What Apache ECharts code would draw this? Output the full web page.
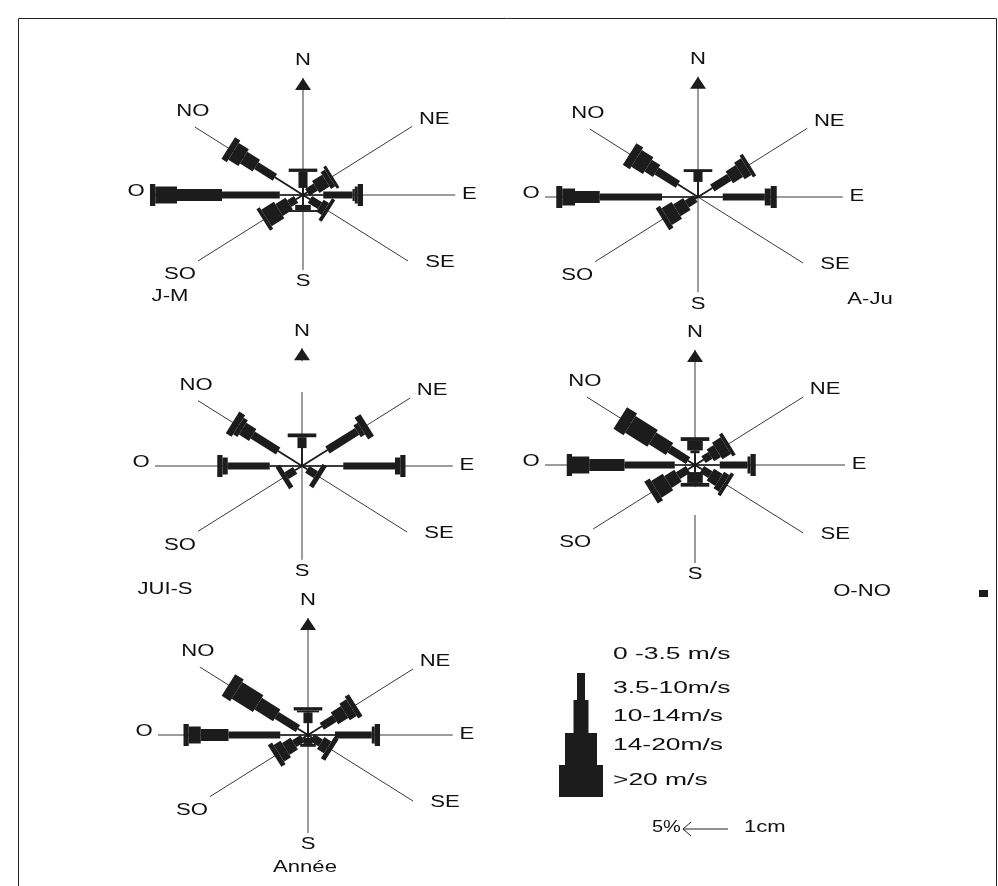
<!DOCTYPE html>
<html>
<head>
<meta charset="utf-8">
<script src="https://cdn.jsdelivr.net/npm/echarts@6/dist/echarts.min.js"></script>
<style>
  html, body { margin: 0; padding: 0; background: #fff; }
  #chart { width: 998px; height: 886px; }
</style>
</head>
<body>
<div id="chart"></div>
<script>
// Compass sectors (clockwise from north) and wind-speed classes
const directions = ['N', 'NE', 'E', 'SE', 'S', 'SO', 'O', 'NO'];
const speedClasses = ['0 -3.5 m/s', '3.5-10m/s', '10-14m/s', '14-20m/s', '>20 m/s'];
const periods = ['J-M', 'A-Ju', 'JUI-S', 'O-NO', 'Année'];

// Frequency (%) per sector; each row = [0-3.5, 3.5-10, 10-14, 14-20, >20]
const freqJM = [
  [1.5, 3.4, 0, 0, 0.7],
  [0.8, 1.6, 1.9, 0.8, 0.5],
  [2.7, 3.9, 0.3, 0.4, 0.7],
  [1.3, 1.9, 1.0, 0, 0.6],
  [2.1, 0, 1.1, 0, 0.4],
  [1.3, 1.3, 1.9, 2.4, 0.6],
  [3.1, 7.7, 6.0, 2.9, 0.7],
  [5.3, 3.5, 2.4, 1.9, 1.0]
];
const freqAJu = [
  [3.2, 2.1, 0, 0, 0.6],
  [2.7, 3.2, 1.9, 1.3, 0.6],
  [3.3, 5.6, 0, 0.8, 0.8],
  [0, 0, 0, 0, 0],
  [0, 0, 0, 0, 0],
  [0.5, 1.6, 1.9, 1.9, 0.8],
  [4.8, 8.3, 3.3, 1.7, 0.8],
  [3.8, 4.0, 1.6, 2.2, 1.3]
];
const freqJuiS = [
  [3.8, 2.3, 0, 0, 0.8],
  [4.8, 5.6, 0.8, 0, 1.1],
  [5.5, 6.9, 0, 0.7, 0.7],
  [1.0, 1.6, 0, 0, 0.8],
  [0, 0, 0, 0, 0],
  [1.3, 1.6, 0, 0, 0.8],
  [4.3, 5.6, 0, 0.7, 0.7],
  [4.5, 4.8, 1.9, 0.8, 1.1]
];
const freqONo = [
  [2.5, 0.6, 2.0, 0, 0.8],
  [1.6, 1.3, 1.3, 1.6, 0.6],
  [3.3, 3.7, 0, 0.4, 0.7],
  [1.3, 1.6, 1.6, 1.0, 0.6],
  [1.5, 0, 2.3, 0, 0.8],
  [1.3, 1.9, 1.9, 2.2, 1.0],
  [2.7, 6.7, 4.7, 2.3, 0.7],
  [1.3, 3.5, 3.2, 4.2, 1.9]
];
const freqAnnee = [
  [2.5, 2.3, 0, 0.4, 0.7],
  [2.6, 2.4, 1.9, 1.3, 0.8],
  [3.6, 4.9, 0, 0.4, 0.7],
  [0.8, 1.6, 1.3, 0, 0.8],
  [0.6, 1.3, 0.6, 0, 0],
  [1.0, 1.6, 1.6, 1.3, 0.8],
  [3.7, 6.9, 3.7, 1.6, 0.7],
  [1.9, 4.0, 3.5, 4.0, 1.6]
];
const scaleLabels = ['5%', '1cm'];

// ---- layout ----
const roses = [freqJM, freqAJu, freqJuiS, freqONo, freqAnnee];
const roseCenters = [[303, 195], [698, 197], [302, 466], [695, 465], [308, 735]];
// drawn length of each compass spoke, in % units
const spokeLen = [
  [24.8, 20.6, 20.3, 19.8, 15.9, 19.8, 20.4, 20.4],
  [25.5, 20.6, 19.3, 19.8, 20.2, 19.4, 20.4, 20.4],
  [25.0, 20.4, 20.1, 19.8, 19.9, 19.6, 19.6, 19.6],
  [24.4, 20.4, 20.0, 20.4, 20.8, 19.2, 20.0, 20.4],
  [24.8, 19.8, 19.3, 19.8, 20.8, 18.5, 20.0, 20.4]
];
// breaks in a spoke line: [rose, sector, from %, to %]
const spokeBreaks = [[2, 0, 15.7, 22.2], [3, 4, 4.7, 10.6]];
// label offsets (px) from the spoke end, in the order of `directions`
const labelOffset = [[0, -17], [22, -7], [14, 0], [32, 2], [0, 12], [-18, 14], [-14, -3], [-2, -15]];
const titlePos = [[170, 297], [870, 300], [165, 590], [862, 592], [305, 868]];
const classWidth = [1.5, 7, 12, 17, 22];   // px across the bar
const PX_X = 7.5, PX_Y = 4.714;             // px per 1 % horizontally / vertically
const XR = 24, YR = 28;
const INK = '#1c1c1c';
const FONT = '16px "Liberation Sans", Arial, sans-serif';

function txt(text, x, y, sx, align) {
  return {
    type: 'text', x: x, y: y, scaleX: sx, silent: true,
    style: { text: text, font: FONT, fill: '#111', align: align || 'center', verticalAlign: 'middle',
             textAlign: align || 'center', textVerticalAlign: 'middle' }
  };
}

function spokeRender(params, api) {
  const i = params.dataIndex;
  const rose = params.seriesIndex >> 1;
  const b = api.value(0) * Math.PI / 180, L = api.value(1);
  const ux = Math.sin(b), uy = Math.cos(b);
  // split the spoke where the line is interrupted
  let pieces = [[0, L]];
  spokeBreaks.forEach(function (g) {
    if (g[0] === rose && g[1] === i) pieces = [[0, g[2]], [g[3], L]];
  });
  const children = pieces.map(function (pc) {
    const a = api.coord([pc[0] * ux, pc[0] * uy]);
    const c = api.coord([pc[1] * ux, pc[1] * uy]);
    return { type: 'line', shape: { x1: a[0], y1: a[1], x2: c[0], y2: c[1] },
             style: { stroke: '#3a3a3a', lineWidth: 1 } };
  });
  const e = api.coord([L * ux, L * uy]);
  if (directions[i] === 'N') {
    children.push({
      type: 'polygon',
      shape: { points: [[e[0], e[1]], [e[0] - 8, e[1] + 12], [e[0] + 8, e[1] + 12]] },
      style: { fill: INK }
    });
  }
  const off = labelOffset[i];
  children.push(txt(directions[i], e[0] + off[0], e[1] + off[1], 1.38));
  return { type: 'group', children: children };
}

function barRender(params, api) {
  const b = api.value(0) * Math.PI / 180;
  const ux = Math.sin(b), uy = Math.cos(b);
  const children = [];
  let r = 0;
  for (let k = 0; k < speedClasses.length; k++) {
    const v = api.value(k + 1);
    if (!v) continue;
    const r1 = r + v;
    const p0 = api.coord([r * ux, r * uy]);
    const p1 = api.coord([r1 * ux, r1 * uy]);
    let dx = p1[0] - p0[0], dy = p1[1] - p0[1];
    const len = Math.hypot(dx, dy) || 1;
    dx /= len; dy /= len;
    const nx = -dy, ny = dx;
    const w = classWidth[k] * (1 + 0.3 * Math.abs(nx)) / 2;
    children.push({
      type: 'polygon',
      shape: { points: [
        [p0[0] + nx * w, p0[1] + ny * w], [p1[0] + nx * w, p1[1] + ny * w],
        [p1[0] - nx * w, p1[1] - ny * w], [p0[0] - nx * w, p0[1] - ny * w]
      ] },
      style: { fill: INK }
    });
    r = r1;
  }
  return { type: 'group', children: children };
}

const grid = [], xAxis = [], yAxis = [], series = [];
roses.forEach(function (freq, r) {
  const cx = roseCenters[r][0], cy = roseCenters[r][1];
  grid.push({ left: cx - XR * PX_X, top: cy - YR * PX_Y, width: 2 * XR * PX_X, height: 2 * YR * PX_Y });
  xAxis.push({ type: 'value', gridIndex: r, min: -XR, max: XR, show: false });
  yAxis.push({ type: 'value', gridIndex: r, min: -YR, max: YR, show: false });
  series.push({
    type: 'custom', xAxisIndex: r, yAxisIndex: r, silent: true, clip: false, z: 1,
    data: directions.map(function (d, i) { return [i * 45, spokeLen[r][i]]; }),
    renderItem: spokeRender
  });
  series.push({
    type: 'custom', xAxisIndex: r, yAxisIndex: r, silent: true, clip: false, z: 2,
    name: periods[r],
    data: directions.map(function (d, i) { return [i * 45].concat(freq[i]); }),
    renderItem: barRender
  });
});

// legend glyph, class labels, scale note, frame, period titles
const legendSegs = [[577, 673, 8, 27], [573.5, 700, 15, 33], [565, 733, 32, 32], [559, 765, 44, 32]];
const legendY = [655, 689, 717, 746, 781];
const graphics = [
  { type: 'polyline', silent: true, shape: { points: [[18.5, 886], [18.5, 18.5], [996.5, 18.5], [996.5, 886]] },
    style: { stroke: '#222', lineWidth: 1, fill: null } },
  { type: 'rect', silent: true, shape: { x: 979, y: 590, width: 9, height: 7 }, style: { fill: INK } }
];
legendSegs.forEach(function (s) {
  graphics.push({ type: 'rect', silent: true, shape: { x: s[0], y: s[1], width: s[2], height: s[3] }, style: { fill: INK } });
});
speedClasses.forEach(function (c, i) { graphics.push(txt(c, 613, legendY[i], 1.65, 'left')); });
graphics.push(txt(scaleLabels[0], 652, 828, 1.25, 'left'));
graphics.push({ type: 'polyline', silent: true, shape: { points: [[691, 822], [683, 829], [691, 836]] }, style: { stroke: '#222', lineWidth: 1, fill: null } });
graphics.push({ type: 'line', silent: true, shape: { x1: 683, y1: 829, x2: 728, y2: 829 }, style: { stroke: '#222', lineWidth: 1 } });
graphics.push(txt(scaleLabels[1], 744, 828, 1.38, 'left'));
periods.forEach(function (p, i) { graphics.push(txt(p, titlePos[i][0], titlePos[i][1], 1.38)); });

const chart = echarts.init(document.getElementById('chart'));
chart.setOption({
  animation: false,
  backgroundColor: '#fff',
  grid: grid, xAxis: xAxis, yAxis: yAxis, series: series,
  graphic: { elements: graphics }
});
</script>
</body>
</html>
